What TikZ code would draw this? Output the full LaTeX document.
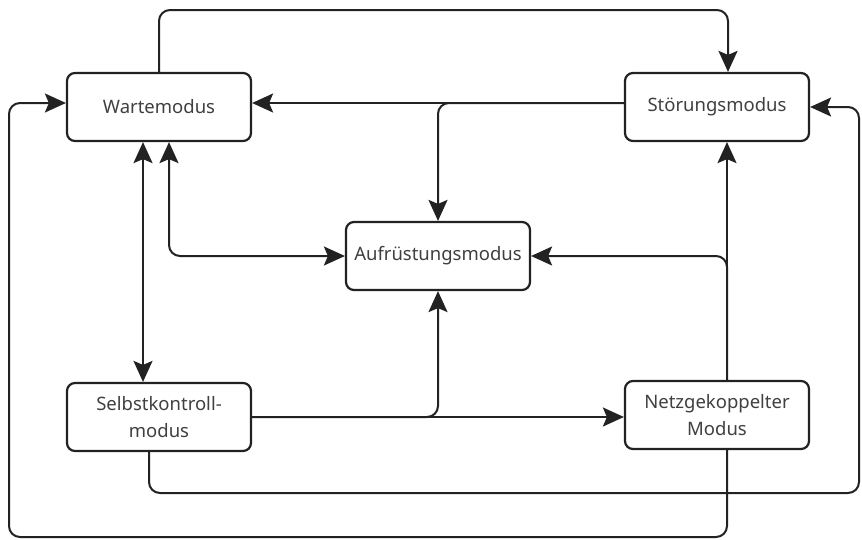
\documentclass[tikz,border=0pt]{standalone}
\usepackage{fontspec}
\setmainfont{Noto Sans}
\usetikzlibrary{arrows.meta}
\definecolor{ln}{HTML}{222222}
\definecolor{tx}{HTML}{404040}
\begin{document}
\begin{tikzpicture}[x=1pt,y=-1pt,
  box/.style={draw=ln, line width=2.2pt, rounded corners=8pt, fill=white,
    minimum width=184pt, minimum height=68pt, inner sep=0pt, align=center,
    text=tx, font=\fontsize{18.5}{27}\selectfont},
  conn/.style={draw=ln, line width=2pt, rounded corners=11pt, -{Stealth[length=21pt,width=19pt,inset=4pt]}},
  both/.style={draw=ln, line width=2pt, rounded corners=11pt,
    {Stealth[length=21pt,width=19pt,inset=4pt]}-{Stealth[length=21pt,width=19pt,inset=4pt]}}]
\useasboundingbox (0,0) rectangle (862,539);
% columns and rows
\coordinate (colR) at (728,0);
\coordinate (colN) at (727,0);
\coordinate (colA) at (143,0);
\coordinate (colB) at (169,0);
\coordinate (colK) at (149,0);
\coordinate (colFR) at (859,0);
\coordinate (colFL) at (9,0);
\coordinate (rowTop) at (0,10);
\coordinate (rowW) at (0,103);
\coordinate (rowB1) at (0,493);
\coordinate (rowB2) at (0,537);
% nodes
\node[box] (W) at (159,107) {Wartemodus};
\node[box] (S) at (717,107) {Störungsmodus};
\node[box] (A) at (438,256) {Aufrüstungsmodus};
\node[box] (K) at (159,417) {Selbstkontroll-\\modus};
\node[box] (N) at (717,415) {Netzgekoppelter\\Modus};
% connectors
\draw[conn] (W.north) |- (rowTop -| colR) -- (S.north -| colR);
\draw[conn] (S.west |- rowW) -- (W.east |- rowW);
\draw[conn] (S.west |- rowW) -| (A.north);
\draw[both] (W.south -| colB) |- (A.west);
\draw[both] (W.south -| colA) -- (K.north -| colA);
\draw[conn] (K.east) -- (N.west |- K.east);
\draw[conn] (K.east) -| (A.south);
\draw[conn] (N.north -| colN) -- (S.south -| colN);
\draw[conn] (N.north -| colN) |- (A.east);
\draw[conn] (K.south -| colK) |- (rowB1 -| colFR) |- (S.east);
\draw[conn] (N.south -| colN) |- (rowB2 -| colFL) |- (W.west |- rowW);
\end{tikzpicture}
\end{document}
